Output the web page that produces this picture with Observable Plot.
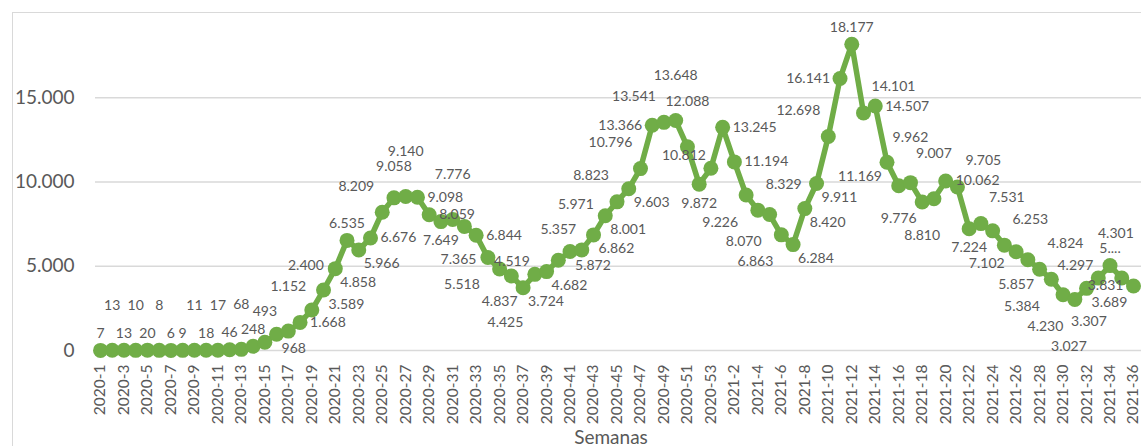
<!DOCTYPE html>
<html>
<head>
<meta charset="utf-8">
<script src="https://cdn.jsdelivr.net/npm/d3@7"></script>
<script src="https://cdn.jsdelivr.net/npm/@observablehq/plot@0.6"></script>
<style>
  html, body { margin: 0; padding: 0; background: #fff; overflow: hidden; }
  #wrap { position: relative; width: 1141px; height: 446px; }
  #border { position: absolute; left: 12px; top: 12px; right: 0; bottom: 0;
            border-left: 1px solid #d9d9d9; border-top: 1px solid #d9d9d9; pointer-events: none; }
</style>
</head>
<body>
<div id="wrap"><div id="border"></div></div>
<script>
// ---- data ----
const years = [2020, 2021];
const weeksInYear = [53, 36];
const weeks = years.flatMap((y, k) => d3.range(1, weeksInYear[k] + 1).map(w => `${y}-${w}`));

const cases2020 = [
  7, 13, 13, 10, 20, 8, 6, 9, 11, 18,
  17, 46, 68, 248, 493, 968, 1152, 1668, 2400, 3589,
  4858, 6535, 5966, 6676, 8209, 9058, 9140, 9098, 8059, 7649,
  7776, 7365, 6844, 5518, 4837, 4425, 3724, 4519, 4682, 5357,
  5872, 5971, 6862, 8001, 8823, 9603, 10796, 13366, 13541, 13648,
  12088, 9872, 10812
];
const cases2021 = [
  13245, 11194, 9226, 8329, 8070, 6863, 6284, 8420, 9911, 12698,
  16141, 18177, 14101, 14507, 11169, 9776, 9962, 8810, 9007, 10062,
  9705, 7224, 7531, 7102, 6253, 5857, 5384, 4824, 4230, 3307,
  3027, 3689, 4297, 5040, 4301, 3831
];
const cases = cases2020.concat(cases2021);
const yTicks = [0, 5000, 10000, 15000];
const xTicks = weeks.filter((_, i) => i % 2 === 0);
const labelOverrides = {"2021-34": "5...."};
const xTitle = "Semanas";

// ---- formatting ----
const loc = d3.formatLocale({decimal: ",", thousands: ".", grouping: [3], currency: ["", ""]});
const fmt = loc.format(",d");

const W = 1141, H = 446;
const xOpts = {type: "point", domain: weeks, padding: 0, range: [100, 1133], axis: null};
const yOpts = {domain: [0, 20000], range: [350, 13], axis: null};
const xs = Plot.scale({x: xOpts});
const ys = Plot.scale({y: yOpts});

const green = "#70AD47";
const grey = "#595959";
const font = "Lato, 'Open Sans', sans-serif";
const fs = 14;

// ---- label placement (greedy collision avoidance) ----
const pts = weeks.map((w, i) => ({x: xs.apply(w), y: ys.apply(cases[i])}));
const samples = [];
for (let i = 0; i < pts.length - 1; i++) {
  const a = pts[i], b = pts[i + 1];
  const len = Math.hypot(b.x - a.x, b.y - a.y);
  const n = Math.max(2, Math.ceil(len / 2));
  for (let k = 0; k <= n; k++) samples.push({x: a.x + (b.x - a.x) * k / n, y: a.y + (b.y - a.y) * k / n});
}
const textW = s => { let w = 0; for (const c of s) w += (c >= "0" && c <= "9") ? 0.6 * fs : (c === "." ? 0.3 * fs : 0.5 * fs); return w; };

const C = {
  N: ["middle", 0, -17], N2: ["middle", 0, -31], N3: ["middle", 0, -45],
  S: ["middle", 0, 19], S2: ["middle", 0, 33],
  NE: ["start", 5, -13], NE2: ["start", 8, -26],
  NW: ["end", -5, -13], NW2: ["end", -8, -26],
  SE: ["start", 5, 14], SE2: ["start", 8, 27],
  SW: ["end", -5, 14], SW2: ["end", -8, 27],
  E: ["start", 10, 0], W: ["end", -10, 0],
  Nl: ["end", 12, -17], Nl2: ["end", 12, -31], Nl3: ["end", 12, -45],
  Sl: ["end", 12, 19], Sl2: ["end", 12, 33], Sl3: ["end", 12, 47],
  SW3: ["end", -8, 40], NW3: ["end", -8, -40]
};
const allKeys = Object.keys(C);

function prefs(i) {
  const v = cases[i];
  const p = i > 0 ? cases[i - 1] : v;
  const n = i < cases.length - 1 ? cases[i + 1] : v;
  let order;
  if (v < 600) order = ["N", "N2", "N3", "NW", "NE", "NW2", "NE2"];
  else if (v >= p && v >= n) order = ["N", "NE", "NW", "N2", "E", "W"];
  else if (v <= p && v <= n) order = ["S", "SE", "SW", "S2", "E", "W"];
  else if (p < v) order = ["NW", "SE", "W", "E", "NW2", "SE2"];
  else order = ["NE", "SW", "E", "W", "NE2", "SW2"];
  return order.concat(allKeys.filter(k => !order.includes(k)));
}

function boxFor(i, key, w) {
  const [anchor, dx, dy] = C[key];
  const cx = pts[i].x + dx, cy = pts[i].y + dy;
  const x1 = anchor === "middle" ? cx - w / 2 : anchor === "end" ? cx - w : cx;
  return {x1, x2: x1 + w, y1: cy - 7, y2: cy + 7};
}
const overlap = (a, b) => a.x1 < b.x2 + 2 && b.x1 < a.x2 + 2 && a.y1 < b.y2 + 1 && b.y1 < a.y2 + 1;
function hitsGeometry(b) {
  for (const s of samples) if (s.x > b.x1 - 3.5 && s.x < b.x2 + 3.5 && s.y > b.y1 - 3.5 && s.y < b.y2 + 3.5) return true;
  for (const p of pts) {
    const qx = Math.max(b.x1, Math.min(p.x, b.x2)), qy = Math.max(b.y1, Math.min(p.y, b.y2));
    if (Math.hypot(p.x - qx, p.y - qy) < 8.5) return true;
  }
  return false;
}

const placed = [];
const data = weeks.map((w, i) => {
  const label = labelOverrides[w] ?? fmt(cases[i]);
  const tw = textW(label);
  const order = prefs(i);
  const inBounds = b => !(b.x1 < 80 || b.x2 > W - 2 || b.y1 < 15 || b.y2 > 357);
  let chosen = null;
  // pass 1: no collisions at all; pass 2: only avoid other labels; pass 3: any in-bounds
  for (const k of order) {
    const b = boxFor(i, k, tw);
    if (inBounds(b) && !placed.some(q => overlap(q, b)) && !hitsGeometry(b)) { chosen = k; break; }
  }
  if (!chosen) for (const k of order) {
    const b = boxFor(i, k, tw);
    if (inBounds(b) && !placed.some(q => overlap(q, b))) { chosen = k; break; }
  }
  if (!chosen) chosen = order.find(k => inBounds(boxFor(i, k, tw))) ?? order[0];
  placed.push(boxFor(i, chosen, tw));
  return {week: w, value: cases[i], label, pos: chosen};
});

const labelMarks = allKeys.map(k => {
  const [anchor, dx, dy] = C[k];
  return Plot.text(data.filter(d => d.pos === k), {
    x: "week", y: "value", text: "label", fill: grey, fontSize: fs,
    textAnchor: anchor, dx, dy
  });
});

const chart = Plot.plot({
  width: W,
  height: H,
  marginLeft: 100,
  marginRight: 8,
  marginTop: 13,
  marginBottom: 96,
  style: {fontFamily: font, color: grey, background: "transparent", overflow: "visible"},
  x: xOpts,
  y: yOpts,
  marks: [
    Plot.ruleY(yTicks, {stroke: "#d9d9d9", strokeWidth: 1.5, insetLeft: -5, insetRight: -10}),
    Plot.axisY({ticks: yTicks, tickFormat: fmt, tickSize: 0, tickPadding: 26, fontSize: 19, label: null}),
    Plot.text(xTicks, {x: d => d, frameAnchor: "bottom", dy: 14, rotate: -90, textAnchor: "end",
      lineAnchor: "middle", fontSize: 15.5, fill: grey}),
    Plot.text([xTitle], {frameAnchor: "bottom", dx: -6, dy: 87, fontSize: 19, fill: grey, lineAnchor: "middle"}),
    Plot.line(data, {x: "week", y: "value", stroke: green, strokeWidth: 5.5, strokeLinejoin: "round"}),
    Plot.dot(data, {x: "week", y: "value", r: 7.5, fill: green, stroke: null}),
    ...labelMarks
  ]
});
chart.style.position = "absolute";
chart.style.left = "0";
chart.style.top = "0";
document.getElementById("wrap").prepend(chart);
</script>
</body>
</html>
